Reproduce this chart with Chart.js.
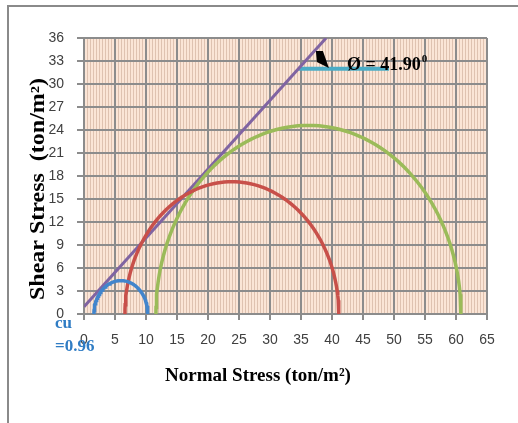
<!DOCTYPE html>
<html>
<head>
<meta charset="utf-8">
<script src="https://cdn.jsdelivr.net/npm/chart.js@4.4.1/dist/chart.umd.min.js"></script>
<style>
  html, body { margin: 0; padding: 0; background: #fff; }
  canvas { display: block; }
</style>
</head>
<body>
<canvas id="mohrChart" width="518" height="423"></canvas>
<script>
// principal stresses of the three tests (ton/m2)
const sigma3 = [1.6, 6.6, 11.6];
const sigma1 = [10.3, 41.1, 60.8];
const circleColors = ['#4285cc', '#c8504a', '#9bbb59'];

// failure envelope
const cohesion = 0.96;
const phiDeg = 41.90;

// horizontal reference line for the friction angle
const refLineX = [34.6, 49.2];
const refLineY = 32;

const xTickLabels = [0, 5, 10, 15, 20, 25, 30, 35, 40, 45, 50, 55, 60, 65];
const yTickLabels = [0, 3, 6, 9, 12, 15, 18, 21, 24, 27, 30, 33, 36];

// angle arrow tip and label anchor, in data units
const arrowTip = { x: 39.5, y: 32.1 };
const phiLabelAt = { x: 42.4, y: 31.8 };

const gridGray = '#8c8c8c';
const minorGrid = '#dfc2b0';
const tickFont = { family: '"Liberation Sans Narrow", "Liberation Sans", sans-serif', size: 14 };

function semicircle(s3, s1) {
  const c = (s1 + s3) / 2, r = (s1 - s3) / 2;
  const pts = [];
  for (let a = 180; a >= 0; a -= 2) {
    const t = a * Math.PI / 180;
    pts.push({ x: c + r * Math.cos(t), y: r * Math.sin(t) });
  }
  return pts;
}

const tanPhi = Math.tan(phiDeg * Math.PI / 180);
const yMax = yTickLabels[yTickLabels.length - 1];
const envelope = [
  { x: 0, y: cohesion },
  { x: (yMax - cohesion) / tanPhi, y: yMax }
];

const datasets = sigma3.map((s3, i) => ({
  data: semicircle(s3, sigma1[i]),
  borderColor: circleColors[i],
  borderWidth: 3.5
}));
datasets.push({ data: envelope, borderColor: '#8064a2', borderWidth: 3 });
datasets.push({
  data: refLineX.map(x => ({ x: x, y: refLineY })),
  borderColor: '#4bacc6',
  borderWidth: 4
});

const isMajorX = v => xTickLabels.includes(v);

const plotDecor = {
  id: 'plotDecor',
  beforeDraw(chart) {
    const { ctx, chartArea: a } = chart;
    ctx.save();
    ctx.fillStyle = '#fbe5d6';
    ctx.fillRect(a.left, a.top, a.right - a.left, a.bottom - a.top);
    // outer frame
    ctx.strokeStyle = '#8a8a8a';
    ctx.lineWidth = 2;
    ctx.beginPath();
    ctx.moveTo(8, 423);
    ctx.lineTo(8, 6);
    ctx.lineTo(518, 6);
    ctx.stroke();
    ctx.restore();
  },
  afterDraw(chart) {
    const { ctx, chartArea: a, scales } = chart;
    ctx.save();
    // axis titles
    ctx.fillStyle = '#000';
    ctx.font = 'bold 19px "Liberation Serif", serif';
    ctx.textAlign = 'center';
    ctx.textBaseline = 'middle';
    ctx.fillText('Normal Stress (ton/m\u00b2)', 258, 376);
    ctx.save();
    ctx.translate(39, 189);
    ctx.rotate(-Math.PI / 2);
    ctx.scale(1.2, 1);
    ctx.font = 'bold 20px "Liberation Serif", serif';
    ctx.fillText('Shear Stress  (ton/m\u00b2)', 0, 0);
    ctx.restore();

    // cohesion label
    ctx.fillStyle = '#2f7cc4';
    ctx.font = 'bold 17px "Liberation Serif", serif';
    ctx.textAlign = 'left';
    ctx.textBaseline = 'alphabetic';
    ctx.fillText('cu', a.left - 29, 328);
    ctx.fillText('=' + cohesion.toFixed(2), a.left - 29, 351);

    // arrowhead marking the friction angle
    const tx = scales.x.getPixelForValue(arrowTip.x);
    const ty = scales.y.getPixelForValue(arrowTip.y);
    ctx.fillStyle = '#000';
    ctx.beginPath();
    ctx.moveTo(tx, ty);
    ctx.lineTo(tx - 6, ty - 17);
    ctx.lineTo(tx - 13, ty - 17);
    ctx.lineTo(tx - 12, ty - 6);
    ctx.closePath();
    ctx.fill();

    // friction angle label
    const px = scales.x.getPixelForValue(phiLabelAt.x);
    const py = scales.y.getPixelForValue(phiLabelAt.y);
    ctx.font = 'bold 18px "Liberation Serif", serif';
    const txt = '\u00d8 = ' + phiDeg.toFixed(2);
    ctx.fillText(txt, px, py);
    const w = ctx.measureText(txt).width;
    ctx.font = 'bold 11px "Liberation Serif", serif';
    ctx.fillText('0', px + w + 1, py - 8);
    ctx.restore();
  }
};

new Chart(document.getElementById('mohrChart'), {
  type: 'scatter',
  data: { datasets: datasets },
  options: {
    responsive: false,
    animation: false,
    showLine: true,
    elements: {
      point: { radius: 0 },
      line: { tension: 0, fill: false }
    },
    layout: { padding: { top: 38, right: 31, left: 0, bottom: 0 } },
    plugins: {
      legend: { display: false },
      tooltip: { enabled: false }
    },
    scales: {
      x: {
        type: 'linear',
        min: 0,
        max: 65,
        afterBuildTicks: s => {
          const vals = [];
          for (let v = 0; v <= 65; v += 0.5) vals.push({ value: v });
          s.ticks = vals;
        },
        afterFit: s => { s.height = 109; },
        grid: {
          color: c => isMajorX(c.tick.value) ? gridGray : minorGrid,
          lineWidth: c => isMajorX(c.tick.value) ? 2 : 1,
          tickColor: c => isMajorX(c.tick.value) ? gridGray : 'rgba(0,0,0,0)',
          tickLength: 6
        },
        border: { color: gridGray, width: 2 },
        ticks: {
          autoSkip: false,
          maxRotation: 0,
          padding: 12,
          color: '#404040',
          font: tickFont,
          callback: v => isMajorX(v) ? String(v) : ''
        }
      },
      y: {
        type: 'linear',
        min: 0,
        max: yMax,
        afterBuildTicks: s => { s.ticks = yTickLabels.map(v => ({ value: v })); },
        afterFit: s => { s.width = 84; },
        grid: { color: gridGray, lineWidth: 2, tickColor: gridGray, tickLength: 7 },
        border: { color: gridGray, width: 2 },
        ticks: { padding: 13, color: '#404040', font: tickFont }
      }
    }
  },
  plugins: [plotDecor]
});
</script>
</body>
</html>
